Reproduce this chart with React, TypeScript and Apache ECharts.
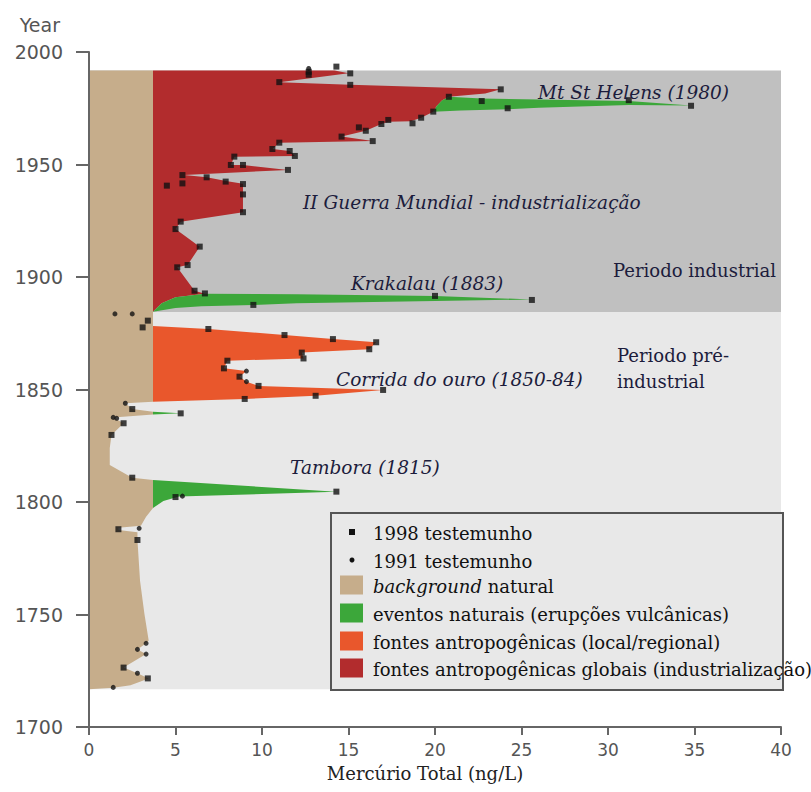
import React, { useEffect, useRef } from "react";
import * as echarts from "echarts";

// ---------- data (value in ng/L, year) ----------
const BG = 3.7; // natural background level (ng/L)

const industrialBand: number[][] = [[0, 1884.4], [40, 1884.4], [40, 1991.8], [0, 1991.8]];
const preIndustrialBand: number[][] = [[0, 1716.8], [40, 1716.8], [40, 1884.4], [0, 1884.4]];

const naturalBackground: number[][] = [
  [0, 1991.8], [BG, 1991.8], [BG, 1844.6], [2.1, 1843.9], [2.5, 1841.3], [BG, 1840.1], [BG, 1838.9],
  [1.4, 1837.6], [2.0, 1835], [1.3, 1829.8], [1.2, 1824], [1.2, 1816.4], [2.5, 1810.8], [BG, 1809.8],
  [BG, 1797.3], [3.3, 1793.5], [3.0, 1789.4], [1.7, 1788.6], [1.7, 1787.6], [2.8, 1786.6], [2.8, 1783.1],
  [2.95, 1765], [3.2, 1750.5], [3.45, 1738.5], [3.3, 1737.2], [2.8, 1734.5], [3.3, 1732.4], [2.0, 1726.4],
  [2.8, 1723.9], [3.45, 1721.6], [2.4, 1718.6], [1.4, 1717.4], [0, 1716.8],
];

const industrialFill: number[][] = [
  [BG, 1991.8], [14.2, 1991.8], [15.0, 1990.6], [11.0, 1986.6], [15.1, 1985.4], [23.8, 1983.4], [22.9, 1981.6],
  [20.8, 1980.1], [20.4, 1978.5], [20.1, 1976], [19.9, 1973.5], [19.2, 1970.8], [18.6, 1969.2], [17.3, 1969.0],
  [16.9, 1968], [16.0, 1965], [14.6, 1962.4], [16.4, 1960.4], [11.0, 1959.7], [10.6, 1956.9], [11.6, 1956],
  [11.9, 1953.8], [8.4, 1953.5], [8.2, 1949.8], [8.9, 1949.8], [11.5, 1947.6], [5.5, 1945.3], [6.8, 1944.3],
  [8.0, 1942.6], [8.9, 1941.5], [8.9, 1928.8], [5.3, 1924.6], [5.0, 1921.3], [6.4, 1913.5], [5.7, 1905.3],
  [5.1, 1904.3], [6.1, 1893.9], [6.7, 1892.6], [5.0, 1891.0], [4.2, 1888.3], [BG, 1884.6],
];

const stHelensFill: number[][] = [
  [20.8, 1980.1], [22.7, 1979.3], [26, 1978.9], [31.2, 1978.2], [34.8, 1976.2], [31.2, 1976.4], [26, 1975.2],
  [24.2, 1974.6], [21.5, 1974.0], [19.9, 1973.5], [20.1, 1976], [20.4, 1978.5],
];

const krakatauFill: number[][] = [
  [BG, 1884.6], [4.2, 1888.3], [5.0, 1891.0], [6.7, 1892.6], [12, 1892.3], [20.0, 1891.6], [25.6, 1890.0],
  [20, 1889.3], [12, 1888.3], [9.5, 1887.6], [6.5, 1887.0], [5, 1886.2],
];

const goldRushFill: number[][] = [
  [BG, 1878.2], [6.9, 1876.9], [11.3, 1874.2], [14.1, 1872.4], [16.6, 1871.0], [16.2, 1867.9], [12.3, 1866.4],
  [12.4, 1863.8], [8.0, 1862.8], [7.8, 1859.4], [9.1, 1858.2], [8.7, 1855.7], [9.1, 1853.5], [9.8, 1851.6],
  [17.0, 1849.8], [13.1, 1847.2], [9.0, 1845.8], [BG, 1844.6],
];

const smallEruptionFill: number[][] = [[BG, 1840.1], [5.3, 1839.5], [BG, 1838.9]];

const tamboraFill: number[][] = [[BG, 1809.8], [14.3, 1804.6], [5.2, 1802.4], [4.3, 1800.5], [BG, 1797.3]];

const core1998: number[][] = [
  [14.3, 1993.5], [12.7, 1991.2], [12.7, 1989.9], [15.1, 1990.5], [11.0, 1986.6], [15.1, 1985.4], [23.8, 1983.4],
  [20.8, 1980.1], [22.7, 1978.2], [24.2, 1975.0], [31.2, 1978.6], [34.8, 1976.1], [19.9, 1973.5], [19.2, 1970.8],
  [18.7, 1968.3], [17.3, 1969.8], [16.9, 1968], [16.0, 1965], [15.6, 1966.5], [14.6, 1962.4], [16.4, 1960.4],
  [11.0, 1959.7], [10.6, 1956.9], [11.6, 1956], [11.9, 1953.8], [8.4, 1953.5], [8.2, 1949.8], [8.9, 1949.8],
  [11.5, 1947.6], [6.8, 1944.3], [5.4, 1945.3], [5.4, 1941.6], [7.9, 1942.4], [8.9, 1941.3], [4.5, 1940.6],
  [8.9, 1936.7], [8.9, 1928.8], [5.3, 1924.6], [5.0, 1921.3], [6.4, 1913.5], [5.7, 1905.3], [5.1, 1904.3],
  [6.1, 1893.9], [6.7, 1892.7], [9.5, 1887.6], [20.0, 1891.6], [25.6, 1889.8],
  [3.4, 1880.6], [3.1, 1877.6], [6.9, 1876.9], [11.3, 1874.2], [14.1, 1872.4], [16.6, 1871.0], [16.2, 1867.9],
  [12.3, 1866.4], [12.4, 1863.8], [8.0, 1862.8], [7.8, 1859.4], [8.7, 1855.7], [9.8, 1851.6], [17.0, 1849.8],
  [13.1, 1847.2], [9.0, 1845.8], [2.5, 1841.3], [5.3, 1839.4], [2.0, 1835], [1.3, 1829.8], [2.5, 1810.8],
  [14.3, 1804.6], [5.0, 1802.2], [1.7, 1787.9], [2.8, 1783.1], [2.0, 1726.4], [3.4, 1721.6],
];

const core1991: number[][] = [
  [12.7, 1992.7], [2.5, 1883.6], [1.5, 1883.6], [9.1, 1858.2], [9.1, 1853.5], [2.1, 1843.9], [1.4, 1837.6],
  [1.6, 1837.2], [5.4, 1802.6], [2.9, 1788.3], [3.3, 1737.2], [2.8, 1734.5], [3.3, 1732.4], [2.8, 1723.9],
  [1.4, 1717.6],
];

// ---------- styles ----------
const C = {
  industrial: "#c0c0c0",
  preIndustrial: "#e8e8e8",
  natural: "#c6ad8b",
  volcanic: "#3ca73a",
  local: "#e9572c",
  global: "#b22c2d",
  ink: "#1c1c3c",
  axis: "#666",
};

const shapes = [
  { pts: industrialBand, color: C.industrial },
  { pts: preIndustrialBand, color: C.preIndustrial },
  { pts: naturalBackground, color: C.natural },
  { pts: industrialFill, color: C.global },
  { pts: stHelensFill, color: C.volcanic },
  { pts: krakatauFill, color: C.volcanic },
  { pts: goldRushFill, color: C.local },
  { pts: smallEruptionFill, color: C.volcanic },
  { pts: tamboraFill, color: C.volcanic },
];

const SERIF = "DejaVu Serif";

function txt(x: number, y: number, text: string, opts: any = {}) {
  return {
    type: "text",
    x,
    y,
    z: 50,
    silent: true,
    style: {
      text,
      fill: C.ink,
      fontFamily: SERIF,
      fontSize: 18,
      verticalAlign: "middle",
      align: "left",
      ...opts,
    },
  };
}

const legendRows = [
  { kind: "rect", y: 532, label: "1998 testemunho" },
  { kind: "dot", y: 560, label: "1991 testemunho" },
  { kind: "swatch", y: 585, color: C.natural, label: "{i|background} natural" },
  { kind: "swatch", y: 613, color: C.volcanic, label: "eventos naturais (erupções vulcânicas)" },
  { kind: "swatch", y: 641, color: C.local, label: "fontes antropogênicas (local/regional)" },
  { kind: "swatch", y: 668, color: C.global, label: "fontes antropogênicas globais (industrialização)" },
];

function buildLegend() {
  const els: any[] = [
    {
      type: "rect",
      z: 40,
      shape: { x: 331, y: 513, width: 452, height: 177 },
      style: { fill: C.preIndustrial, stroke: "#555", lineWidth: 2 },
    },
  ];
  legendRows.forEach((r) => {
    if (r.kind === "rect") {
      els.push({ type: "rect", z: 45, shape: { x: 349, y: r.y - 3, width: 6, height: 6 }, style: { fill: "#111" } });
    } else if (r.kind === "dot") {
      els.push({ type: "circle", z: 45, shape: { cx: 352, cy: r.y, r: 2.5 }, style: { fill: "#111" } });
    } else {
      els.push({
        type: "rect",
        z: 45,
        shape: { x: 340, y: r.y - 9.5, width: 23, height: 19 },
        style: { fill: r.color },
      });
    }
    els.push(
      txt(373, r.y + 1, r.label, {
        fill: "#111",
        rich: { i: { fontStyle: "italic", fontFamily: SERIF, fontSize: 18, fill: "#111" } },
      })
    );
  });
  return els;
}

const IT = { fontStyle: "italic", fontSize: 18.5 };
const annotations = [
  txt(538, 92, "Mt St Helens (1980)", IT),
  txt(303, 202, "II Guerra Mundial - industrialização", IT),
  txt(613, 270, "Periodo industrial"),
  txt(351, 283, "Krakalau (1883)", IT),
  txt(617, 355, "Periodo pré-"),
  txt(617, 381, "industrial"),
  txt(336, 379, "Corrida do ouro (1850-84)", IT),
  txt(290, 467, "Tambora (1815)", IT),
];

const option: any = {
  animation: false,
  backgroundColor: "#fff",
  grid: { left: 89, right: 30, top: 52, bottom: 65, containLabel: false },
  xAxis: {
    type: "value",
    min: 0,
    max: 40,
    interval: 5,
    z: 10,
    name: "Mercúrio Total (ng/L)",
    nameLocation: "middle",
    nameGap: 37,
    nameTextStyle: { fontFamily: SERIF, fontSize: 18, color: "#222", padding: [0, 20, 0, 0] },
    axisLine: { show: true, onZero: false, lineStyle: { color: C.axis, width: 2 } },
    axisTick: { show: true, length: 8, lineStyle: { color: C.axis, width: 2 } },
    axisLabel: { fontFamily: "DejaVu Sans", fontSize: 17, color: "#555", margin: 14 },
    splitLine: { show: false },
  },
  yAxis: {
    type: "value",
    min: 1700,
    max: 2000,
    interval: 50,
    z: 10,
    name: "Year",
    nameLocation: "end",
    nameGap: 27,
    nameTextStyle: {
      fontFamily: "DejaVu Sans",
      fontSize: 19,
      color: "#555",
      align: "right",
      verticalAlign: "middle",
      padding: [0, 29, 0, 0],
    },
    axisLine: { show: true, onZero: false, lineStyle: { color: C.axis, width: 2 } },
    axisTick: { show: true, length: 13, lineStyle: { color: C.axis, width: 2 } },
    axisLabel: {
      fontFamily: "DejaVu Sans",
      fontSize: 19,
      color: "#555",
      margin: 26,
      formatter: (v: number) => String(v),
    },
    splitLine: { show: false },
  },
  series: [
    {
      type: "custom",
      name: "regions",
      z: 1,
      silent: true,
      data: shapes.map((s, i) => [s.pts[0][0], s.pts[0][1], i]),
      renderItem: (params: any, api: any) => {
        const s = shapes[api.value(2)];
        return {
          type: "polygon",
          shape: { points: s.pts.map((p) => api.coord(p)) },
          style: { fill: s.color },
        };
      },
    },
    {
      type: "scatter",
      name: "1998 testemunho",
      z: 5,
      symbol: "rect",
      symbolSize: 6,
      itemStyle: { color: "#111" },
      data: core1998,
    },
    {
      type: "scatter",
      name: "1991 testemunho",
      z: 5,
      symbol: "circle",
      symbolSize: 5,
      itemStyle: { color: "#111" },
      data: core1991,
    },
  ],
  graphic: [...annotations, ...buildLegend()],
};

export default function App() {
  const ref = useRef<HTMLDivElement>(null);
  useEffect(() => {
    const chart = echarts.init(ref.current!, null, { renderer: "svg" });
    chart.setOption(option);
    return () => chart.dispose();
  }, []);
  return <div ref={ref} style={{ position: "absolute", left: 0, top: 0, width: 811, height: 792 }} />;
}
